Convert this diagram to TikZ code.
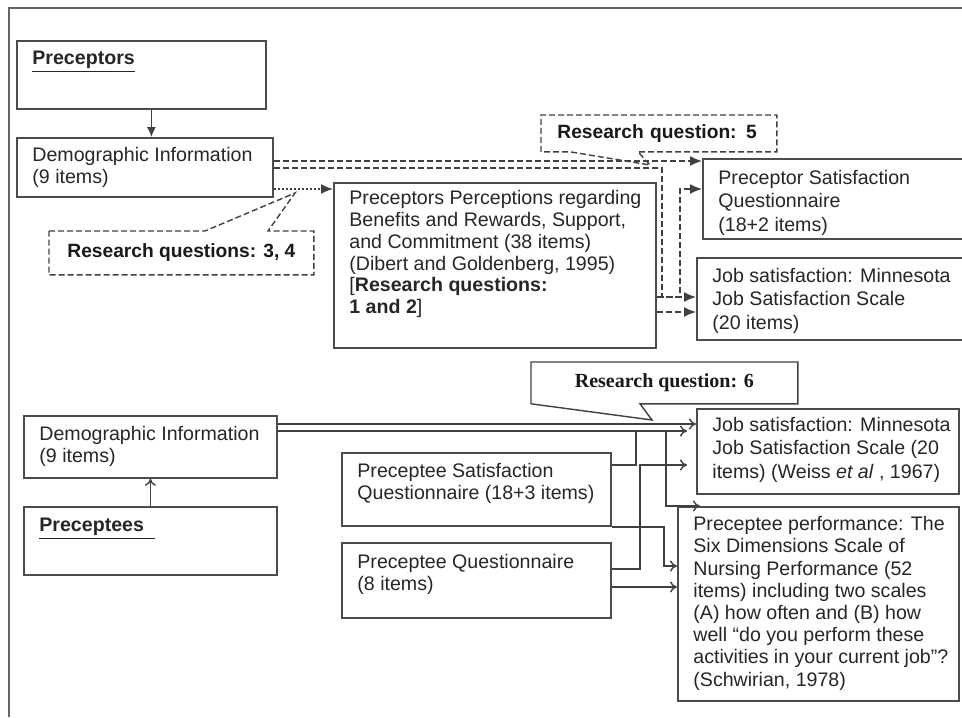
\documentclass[tikz,border=0pt]{standalone}
\usepackage{fontspec}
\setmainfont{Liberation Sans}
\newfontfamily\timesfont{Liberation Serif}
\usetikzlibrary{arrows.meta}
\usetikzlibrary{calc}
\usetikzlibrary{positioning}

\tikzset{
  box/.style={draw=black!70, line width=0.9pt, anchor=north west, inner sep=0pt},
  txt/.style={anchor=north west, inner sep=0pt, align=left, text=black!85,
    font=\fontsize{9.8pt}{10.9pt}\selectfont},
  widelines/.style={font=\fontsize{9.8pt}{11.6pt}\selectfont},
  headtxt/.style={font=\fontsize{9.8pt}{11pt}\selectfont\bfseries},
  callbox/.style={anchor=north west, inner sep=0pt, text=black!90,
    font=\fontsize{9.6pt}{11pt}\selectfont\bfseries},
  dsh/.style={draw=black!75, line width=0.7pt, dash pattern=on 3pt off 1.5pt},
  dotline/.style={draw=black!75, line width=0.7pt, dash pattern=on 1pt off 1pt},
  link/.style={draw=black!75, line width=0.7pt},
  filltip/.style={-{Latex[length=6pt,width=5pt]}},
  thintip/.style={-{To[length=3.5pt,width=5.5pt]}},
}

\begin{document}
\begin{tikzpicture}[x=0.5pt,y=-0.5pt]
\useasboundingbox (0,0) rectangle (962,717);
\draw[black!60, line width=1.3pt] (9,717) -- (9,8) -- (962,8);

% preceptors
\node (prc) [box, minimum width=124.5pt, minimum height=34pt] at (16,40) {};
\node (prc-t) [txt, headtxt] at ([shift={(16,11)}]prc.north west) {\underline{Preceptors}};
\node (demoA) [box, minimum width=128pt, minimum height=29.5pt] at (16,137) {};
\node (demoA-t) [txt] at ([shift={(16,10)}]demoA.north west) {Demographic Information\\(9 items)};
\node (perc) [box, minimum width=161pt, minimum height=82.5pt] at (333,182) {};
\node (perc-t) [txt] at ([shift={(16,8)}]perc.north west)
  {Preceptors Perceptions regarding\\Benefits and Rewards, Support,\\and Commitment (38 items)\\(Dibert and Goldenberg, 1995)\\{[}\textbf{Research questions:}\\\textbf{1 and 2}{]}};
\node (psq) [box, minimum width=135pt, minimum height=40pt] at (702,158) {};
\node (psq-t) [txt, widelines] at ([shift={(16,12)}]psq.north west) {Preceptor Satisfaction\\Questionnaire\\(18+2 items)};
\node (jsA) [box, minimum width=136pt, minimum height=41pt] at (696,257) {};
\node (jsA-t) [txt, widelines] at ([shift={(16,11)}]jsA.north west) {Job satisfaction: Minnesota\\Job Satisfaction Scale\\(20 items)};

% research question callouts (top)
\node (rq34) [callbox, minimum width=132pt, minimum height=21.5pt] at (49,231) {Research questions: 3, 4};
\coordinate (tip34) at (295,193);
\draw[dsh] (rq34.north west) -- ($(rq34.north west)+(156,0)$) -- (tip34)
  -- ($(rq34.north west)+(219,0)$) -- (rq34.north east) -- (rq34.south east)
  -- (rq34.south west) -- cycle;
\node (rq5) [callbox, minimum width=117.5pt, minimum height=18pt, text width=101.5pt, inner xsep=8pt, align=left] at (541,115) {Research question: 5};
\coordinate (tip5) at (650,165);
\draw[dsh] (rq5.south west) -- (rq5.north west) -- (rq5.north east) -- (rq5.south east)
  -- ($(rq5.south west)+(97,0)$) -- (tip5) -- ($(rq5.south west)+(29,0)$) -- cycle;

% top connectors
\draw[link, -{Latex[length=5pt,width=4.5pt]}] ([xshift=5pt]prc.south) -- ([xshift=5pt]prc.south |- demoA.north);
\draw[dsh, filltip] ([yshift=-12pt]demoA.north east) -- ([yshift=-12pt]demoA.north east -| psq.west);
\draw[dsh, filltip] ([yshift=-15.5pt]demoA.north east) -| (662,297) -- ([yshift=-20pt]jsA.north west);
\draw[dotline, filltip] ([yshift=-26pt]demoA.north east) -- ([yshift=-3.5pt]perc.north west);
\draw[dsh, filltip] ([yshift=-57.5pt]perc.north east) -| (680,189) -- ([yshift=-15.5pt]psq.north west);
\draw[dsh, filltip] ([yshift=-65pt]perc.north east) -- ([yshift=-27.5pt]jsA.north west);

% preceptees
\node (demoB) [box, minimum width=126.5pt, minimum height=31pt] at (23,415) {};
\node (demoB-t) [txt] at ([shift={(16,11)}]demoB.north west) {Demographic Information\\(9 items)};
\node (pree) [box, minimum width=126.5pt, minimum height=34pt] at (23,506) {};
\node (pree-t) [txt, headtxt] at ([shift={(16,12)}]pree.north west) {\underline{Preceptees\ \ }};
\node (psat) [box, minimum width=134.5pt, minimum height=36.5pt] at (341,452) {};
\node (psat-t) [txt] at ([shift={(16,11)}]psat.north west) {Preceptee Satisfaction\\Questionnaire (18+3 items)};
\node (pq) [box, minimum width=134.5pt, minimum height=37.5pt] at (341,542) {};
\node (pq-t) [txt] at ([shift={(16,12)}]pq.north west) {Preceptee Questionnaire\\(8 items)};
\node (jsB) [box, minimum width=131pt, minimum height=42.5pt] at (696,408) {};
\node (jsB-t) [txt, widelines] at ([shift={(16,9)}]jsB.north west) {Job satisfaction: Minnesota\\Job Satisfaction Scale (20\\items) (Weiss \textit{et al} , 1967)};
\node (perf) [box, minimum width=140.5pt, minimum height=97pt] at (677,506) {};
\node (perf-t) [txt, font=\fontsize{9.8pt}{11.1pt}\selectfont] at ([shift={(16,10)}]perf.north west)
  {Preceptee performance: The\\Six Dimensions Scale of\\Nursing Performance (52\\items) including two scales\\(A) how often and (B) how\\well “do you perform these\\activities in your current job”?\\(Schwirian, 1978)};

% research question 6
\node (rq6) [callbox, font=\timesfont\bfseries\fontsize{10pt}{12pt}\selectfont, minimum width=133pt, minimum height=20.5pt] at (531,362) {Research question: 6};
\coordinate (tip6) at (652,420);
\draw[link] (rq6.south west) -- (rq6.north west) -- (rq6.north east) -- (rq6.south east)
  -- ($(rq6.south west)+(109,0)$) -- (tip6) -- cycle;

% bottom connectors
\coordinate (j2) at (666,431);
\coordinate (j3) at (636,431);
\draw[link, thintip] (pree.north) -- (demoB.south);
\draw[link, thintip] ([yshift=-4.5pt]demoB.north east) -- ([yshift=-8pt]jsB.north west);
\draw[link, thintip, shorten >=4.5pt] ([yshift=-8pt]demoB.north east) -- ([yshift=-11.5pt]jsB.north west);
\draw[link, thintip] (j2) |- ([xshift=11.5pt]perf.north west);
\draw[link] ([yshift=-6.5pt]psat.north east) -| (j3);
\draw[link, thintip] (psat.south east) -| (664,566) -- ([yshift=-30pt]perf.north west);
\draw[link, thintip, shorten >=4.5pt] ([yshift=-13.5pt]pq.north east) -| (640,465) -- ([yshift=-28.5pt]jsB.north west);
\draw[link, thintip] ([yshift=-22.5pt]pq.north east) -- ([yshift=-40.5pt]perf.north west);
\end{tikzpicture}
\end{document}
